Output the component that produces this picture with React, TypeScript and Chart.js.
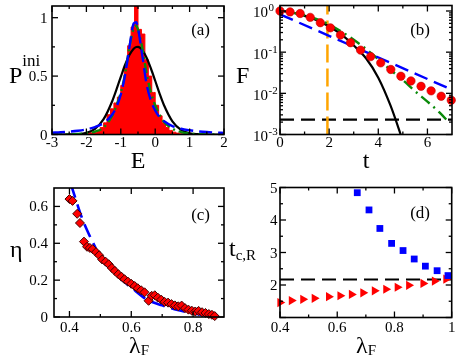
import React, { useEffect, useRef } from 'react';
import { Chart, registerables } from 'chart.js';

Chart.register(...registerables);

const FONT = '"Liberation Serif", "Times New Roman", Times, serif';
const RED = '#ff0000';
const BLUE = '#0000ff';
const GREEN = '#0a8a0a';
const ORANGE = '#ffa500';

// ---------------- Panel (a): P^ini vs E ----------------
const aGridE = [-3, -2.75, -2.5, -2.25, -2, -1.75, -1.5, -1.25, -1.125, -1, -0.875, -0.75, -0.625, -0.55, -0.5, -0.375, -0.25, -0.125, 0, 0.125, 0.25, 0.5, 0.75, 1, 1.25, 1.5, 1.75, 2];
const aBlack = [0, 0, 0.001, 0.003, 0.014, 0.048, 0.131, 0.285, 0.386, 0.493, 0.597, 0.681, 0.735, 0.749, 0.75, 0.722, 0.657, 0.565, 0.46, 0.352, 0.255, 0.113, 0.04, 0.011, 0.0025, 0, 0, 0];
const aBlue = [0.0156, 0.0194, 0.0246, 0.0323, 0.044, 0.064, 0.099, 0.171, 0.237, 0.342, 0.509, 0.746, 0.95, 0.961, 0.91, 0.675, 0.43, 0.29, 0.205, 0.15, 0.115, 0.072, 0.049, 0.036, 0.027, 0.021, 0.017, 0.0138];
const aGreen = [0, 0, 0.001, 0.005, 0.012, 0.025, 0.06, 0.16, 0.25, 0.36, 0.52, 0.75, 0.91, 0.93, 0.9, 0.74, 0.52, 0.36, 0.25, 0.17, 0.11, 0.05, 0.02, 0.008, 0.003, 0.001, 0, 0];
const aBinCenters = [-2.35, -2.25, -2.15, -2.05, -1.95, -1.85, -1.75, -1.65, -1.55, -1.45, -1.35, -1.25, -1.15, -1.05, -0.95, -0.85, -0.75, -0.65, -0.55, -0.45, -0.35, -0.25, -0.15, -0.05, 0.05, 0.15, 0.25, 0.35, 0.45, 0.55, 0.65, 0.75, 0.85, 0.95];
const aBinHeights = [0, 0.004, 0.006, 0.008, 0.01, 0.015, 0.02, 0.035, 0.06, 0.1, 0.17, 0.22, 0.27, 0.32, 0.42, 0.58, 0.76, 0.92, 1.15, 0.9, 0.86, 0.64, 0.5, 0.36, 0.25, 0.16, 0.1, 0.06, 0.035, 0.02, 0.012, 0.006, 0.003, 0];
const aXTicks = [-3, -2, -1, 0, 1, 2];
const aXTickLabels = ['-3', '-2', '-1', '0', '1', '2'];
const aXMinor = [-2.5, -1.5, -0.5, 0.5, 1.5];
const aYTicks = [0, 0.5, 1];
const aYTickLabels = ['0', '0.5', '1'];
const aYMinor = [0.25, 0.75];

// ---------------- Panel (b): F vs t (log) ----------------
const bCircleT = [0, 0.41, 0.82, 1.23, 1.64, 2.05, 2.46, 2.87, 3.28, 3.69, 4.1, 4.51, 4.92, 5.33, 5.74, 6.15, 6.56, 6.97];
const bCircleF = [1.0, 0.95, 0.87, 0.7, 0.52, 0.39, 0.26, 0.17, 0.112, 0.078, 0.055, 0.038, 0.026, 0.02, 0.0148, 0.0115, 0.0085, 0.0068];
const bBlackT = [0, 0.5, 1.0, 1.5, 2.0, 2.5, 3.0, 3.5, 4.0, 4.5, 5.0];
const bBlackF = [1.0, 0.92, 0.76, 0.6, 0.42, 0.27, 0.145, 0.071, 0.024, 0.005, 0.0007];
const bGreenT = [0.3, 1.0, 1.5, 2.0, 2.5, 3.0, 3.5, 4.0, 4.5, 5.0, 5.5, 6.0, 6.5, 6.9];
const bGreenF = [0.955, 0.794, 0.631, 0.468, 0.316, 0.2, 0.12, 0.0676, 0.0372, 0.0209, 0.0112, 0.0063, 0.0034, 0.0019];
const bBlueT = [0, 7];
const bBlueF = [0.83, 0.0122];
const bCrossT = 1.93;
const bFloorF = 0.0023;
const bXTicks = [0, 2, 4, 6];
const bXTickLabels = ['0', '2', '4', '6'];
const bXMinor = [1, 3, 5];
const bYTicks = [1, 0.1, 0.01, 0.001];
const bYExponents = ['0', '-1', '-2', '-3'];
const bYMinor: number[] = [];
[0.001, 0.01, 0.1].forEach((dec) => {
  [2, 3, 4, 5, 6, 7, 8, 9].forEach((m) => bYMinor.push(dec * m));
});

// ---------------- Panel (c): eta vs lambda_F ----------------
const cLambda = [0.4, 0.41, 0.425, 0.434, 0.447, 0.457, 0.466, 0.475, 0.486, 0.496, 0.506, 0.517, 0.527, 0.537, 0.547, 0.558, 0.568, 0.578, 0.589, 0.6, 0.611, 0.621, 0.632, 0.643, 0.656, 0.666, 0.676, 0.686, 0.697, 0.708, 0.719, 0.73, 0.741, 0.752, 0.763, 0.774, 0.785, 0.796, 0.807, 0.818, 0.829, 0.84, 0.851, 0.861, 0.87];
const cEta = [0.64, 0.63, 0.56, 0.51, 0.409, 0.381, 0.375, 0.368, 0.352, 0.335, 0.312, 0.3, 0.286, 0.266, 0.25, 0.232, 0.219, 0.205, 0.192, 0.18, 0.168, 0.156, 0.145, 0.134, 0.088, 0.115, 0.118, 0.105, 0.094, 0.082, 0.078, 0.07, 0.063, 0.058, 0.062, 0.048, 0.04, 0.034, 0.03, 0.033, 0.026, 0.022, 0.016, 0.012, 0.005];
const cFitLambda = [0.405, 0.42, 0.44, 0.46, 0.48, 0.5, 0.53, 0.56, 0.6, 0.65, 0.7, 0.75, 0.8, 0.85, 0.87];
const cFitEta = [0.72, 0.64, 0.54, 0.46, 0.39, 0.32, 0.265, 0.215, 0.16, 0.095, 0.063, 0.038, 0.02, 0.006, 0.002];
const cXTicks = [0.4, 0.6, 0.8];
const cXTickLabels = ['0.4', '0.6', '0.8'];
const cXMinor = [0.5, 0.7];
const cYTicks = [0, 0.2, 0.4, 0.6];
const cYTickLabels = ['0', '0.2', '0.4', '0.6'];
const cYMinor = [0.1, 0.3, 0.5];

// ---------------- Panel (d): t_{c,R} vs lambda_F ----------------
const dSquareL = [0.67, 0.711, 0.749, 0.79, 0.83, 0.869, 0.908, 0.949, 0.987];
const dSquareT = [4.84, 4.31, 3.74, 3.28, 3.06, 2.8, 2.58, 2.44, 2.29];
const dTriL = [0.4, 0.44, 0.48, 0.52, 0.57, 0.61, 0.65, 0.69, 0.73, 0.77, 0.81, 0.85, 0.9, 0.94, 0.98];
const dTriT = [1.46, 1.52, 1.56, 1.59, 1.64, 1.67, 1.71, 1.76, 1.82, 1.87, 1.93, 1.99, 2.05, 2.12, 2.18];
const dRefT = 2.17;
const dXTicks = [0.4, 0.6, 0.8, 1];
const dXTickLabels = ['0.4', '0.6', '0.8', '1'];
const dXMinor = [0.5, 0.7, 0.9];
const dYTicks = [1, 2, 3, 4, 5];
const dYTickLabels = ['', '2', '3', '4', '5'];
const dYMinor = [1.5, 2.5, 3.5, 4.5];

// ---------------- helpers ----------------
const pts = (xs: number[], ys: number[]) => xs.map((x, i) => ({ x, y: ys[i] }));

type Run = { t: string; size: number; dy?: number };
type TitleSpec = { x: number; y: number; align: 'left' | 'center' | 'right'; runs: Run[] };
type Deco = {
  xMajor: number[]; xMinor: number[]; xLabels: string[]; xLabelDy: number;
  yMajor: number[]; yMinor: number[]; yLabels: string[]; yLabelDx: number;
  yExp?: boolean;
  titles: TitleSpec[];
};

const TICK_FONT = 15;
const MAJOR = 6;
const MINOR = 3;

function drawRuns(ctx: CanvasRenderingContext2D, spec: TitleSpec) {
  let total = 0;
  spec.runs.forEach((r) => {
    ctx.font = `${r.size}px ${FONT}`;
    total += ctx.measureText(r.t).width;
  });
  let x = spec.align === 'left' ? spec.x : spec.align === 'center' ? spec.x - total / 2 : spec.x - total;
  ctx.textAlign = 'left';
  spec.runs.forEach((r) => {
    ctx.font = `${r.size}px ${FONT}`;
    ctx.fillText(r.t, x, spec.y + (r.dy || 0));
    x += ctx.measureText(r.t).width;
  });
}

function decoPlugin(d: Deco) {
  return {
    id: 'deco',
    afterDraw(chart: any) {
      const ctx: CanvasRenderingContext2D = chart.ctx;
      const a = chart.chartArea;
      const xs = chart.scales.x;
      const ys = chart.scales.y;
      ctx.save();
      ctx.setLineDash([]);
      ctx.strokeStyle = '#000';
      ctx.lineWidth = 1.3;
      const line = (x1: number, y1: number, x2: number, y2: number) => {
        ctx.beginPath();
        ctx.moveTo(x1, y1);
        ctx.lineTo(x2, y2);
        ctx.stroke();
      };
      const xt = (v: number, len: number) => {
        const x = xs.getPixelForValue(v);
        line(x, a.bottom, x, a.bottom - len);
        line(x, a.top, x, a.top + len);
      };
      const yt = (v: number, len: number) => {
        const y = ys.getPixelForValue(v);
        if (y < a.top - 0.5 || y > a.bottom + 0.5) return;
        line(a.left, y, a.left + len, y);
        line(a.right, y, a.right - len, y);
      };
      d.xMajor.forEach((v) => xt(v, MAJOR));
      d.xMinor.forEach((v) => xt(v, MINOR));
      d.yMajor.forEach((v) => yt(v, MAJOR));
      d.yMinor.forEach((v) => yt(v, MINOR));
      ctx.lineWidth = 1.6;
      ctx.strokeRect(a.left, a.top, a.right - a.left, a.bottom - a.top);

      ctx.fillStyle = '#000';
      ctx.textBaseline = 'alphabetic';
      ctx.font = `${TICK_FONT}px ${FONT}`;
      ctx.textAlign = 'center';
      d.xMajor.forEach((v, i) => {
        ctx.fillText(d.xLabels[i], xs.getPixelForValue(v), a.bottom + d.xLabelDy);
      });
      if (d.yExp) {
        d.yMajor.forEach((v, i) => {
          const y = ys.getPixelForValue(v);
          ctx.font = `${TICK_FONT}px ${FONT}`;
          ctx.textAlign = 'right';
          ctx.fillText('10', a.left - d.yLabelDx, y + 6.5);
          ctx.font = `11px ${FONT}`;
          ctx.textAlign = 'left';
          ctx.fillText(d.yLabels[i], a.left - d.yLabelDx + 0.5, y + 0.5);
        });
      } else {
        ctx.textAlign = 'right';
        d.yMajor.forEach((v, i) => {
          if (d.yLabels[i]) ctx.fillText(d.yLabels[i], a.left - d.yLabelDx, ys.getPixelForValue(v) + 5);
        });
      }
      d.titles.forEach((t) => drawRuns(ctx, t));
      ctx.restore();
    },
  };
}

function baseOptions(pad: any, xScale: any, yScale: any) {
  return {
    animation: false,
    responsive: false,
    maintainAspectRatio: false,
    devicePixelRatio: 1,
    events: [],
    layout: { padding: pad },
    plugins: { legend: { display: false }, tooltip: { enabled: false } },
    scales: {
      x: { ...xScale, display: false },
      y: { ...yScale, display: false },
    },
  };
}

const curve = (data: any[], color: string, dash: number[], width = 2.2, extra: any = {}) => ({
  data,
  borderColor: color,
  backgroundColor: color,
  borderWidth: width,
  borderDash: dash,
  pointRadius: 0,
  fill: false,
  tension: 0,
  clip: 0,
  ...extra,
});

// ---------------- configs ----------------
function configA(): any {
  return {
    type: 'line',
    data: {
      datasets: [
        curve(pts(aGridE, aBlue), BLUE, [13, 6], 2.4, { cubicInterpolationMode: 'monotone' }),
        curve(pts(aGridE, aGreen), GREEN, [10, 4, 2, 4], 2.4, { cubicInterpolationMode: 'monotone' }),
        curve(pts(aGridE, aBlack), '#000', [], 2.2, { cubicInterpolationMode: 'monotone' }),
        {
          data: pts(aBinCenters, aBinHeights),
          borderColor: RED,
          backgroundColor: RED,
          borderWidth: 1,
          pointRadius: 0,
          stepped: 'middle',
          fill: 'origin',
          clip: 0,
        },
      ],
    },
    options: baseOptions({ left: 52, right: 4, top: 6, bottom: 45.5 }, { type: 'linear', min: -3, max: 2 }, { type: 'linear', min: 0, max: 1.1 }),
    plugins: [
      decoPlugin({
        xMajor: aXTicks, xMinor: aXMinor, xLabels: aXTickLabels, xLabelDy: 12.5,
        yMajor: aYTicks, yMinor: aYMinor, yLabels: aYTickLabels, yLabelDx: 4.5,
        titles: [
          { x: 138, y: 168, align: 'center', runs: [{ t: 'E', size: 24 }] },
          { x: 9, y: 83, align: 'left', runs: [{ t: 'P', size: 24 }, { t: 'ini', size: 17, dy: -17 }] },
          { x: 210, y: 35, align: 'right', runs: [{ t: '(a)', size: 17 }] },
        ],
      }),
    ],
  };
}

function configB(): any {
  const yMin = 0.001;
  const yMax = 1.36;
  return {
    type: 'line',
    data: {
      datasets: [
        {
          data: pts(bCircleT, bCircleF),
          showLine: false,
          pointRadius: 4.2,
          pointStyle: 'circle',
          pointBackgroundColor: RED,
          pointBorderColor: '#c00000',
          pointBorderWidth: 0.6,
          clip: false,
        },
        curve(pts(bBlueT, bBlueF), BLUE, [14, 7], 2.4),
        curve(pts(bGreenT, bGreenF), GREEN, [11, 5, 2, 5], 2.4, { cubicInterpolationMode: 'monotone' }),
        curve(pts(bBlackT, bBlackF), '#000', [], 2.2, { cubicInterpolationMode: 'monotone' }),
        curve([{ x: bCrossT, y: yMin }, { x: bCrossT, y: yMax }], ORANGE, [18, 6], 2.5),
        curve([{ x: 0, y: bFloorF }, { x: 7, y: bFloorF }], '#000', [14, 7], 2.2),
      ],
    },
    options: baseOptions({ left: 52, right: 5, top: 5.5, bottom: 45.5 }, { type: 'linear', min: 0, max: 7 }, { type: 'logarithmic', min: yMin, max: yMax }),
    plugins: [
      decoPlugin({
        xMajor: bXTicks, xMinor: bXMinor, xLabels: bXTickLabels, xLabelDy: 12.5,
        yMajor: bYTicks, yMinor: bYMinor, yLabels: bYExponents, yLabelDx: 12, yExp: true,
        titles: [
          { x: 138, y: 168, align: 'center', runs: [{ t: 't', size: 24 }] },
          { x: 8, y: 83, align: 'left', runs: [{ t: 'F', size: 24 }] },
          { x: 202, y: 35, align: 'right', runs: [{ t: '(b)', size: 17 }] },
        ],
      }),
    ],
  };
}

function configC(): any {
  return {
    type: 'line',
    data: {
      datasets: [
        {
          data: pts(cLambda, cEta),
          showLine: false,
          pointRadius: 4.5,
          pointStyle: 'rectRot',
          pointBackgroundColor: RED,
          pointBorderColor: '#400000',
          pointBorderWidth: 1,
          clip: false,
        },
        curve(pts(cFitLambda, cFitEta), BLUE, [14, 7], 2.6, { cubicInterpolationMode: 'monotone' }),
      ],
    },
    options: baseOptions({ left: 54, right: 6, top: 8, bottom: 45 }, { type: 'linear', min: 0.35, max: 0.9 }, { type: 'linear', min: 0, max: 0.7 }),
    plugins: [
      decoPlugin({
        xMajor: cXTicks, xMinor: cXMinor, xLabels: cXTickLabels, xLabelDy: 15,
        yMajor: cYTicks, yMinor: cYMinor, yLabels: cYTickLabels, yLabelDx: 6,
        titles: [
          { x: 139, y: 173, align: 'center', runs: [{ t: 'λ', size: 24 }, { t: 'F', size: 15, dy: 2 }] },
          { x: 10, y: 77, align: 'left', runs: [{ t: 'η', size: 24 }] },
          { x: 210, y: 40, align: 'right', runs: [{ t: '(c)', size: 17 }] },
        ],
      }),
    ],
  };
}

function configD(): any {
  return {
    type: 'line',
    data: {
      datasets: [
        {
          data: pts(dSquareL, dSquareT),
          showLine: false,
          pointRadius: 4.8,
          pointStyle: 'rect',
          pointBackgroundColor: BLUE,
          pointBorderColor: BLUE,
          pointBorderWidth: 0,
          clip: false,
        },
        {
          data: pts(dTriL, dTriT),
          showLine: false,
          pointRadius: 5.3,
          pointStyle: 'triangle',
          pointRotation: 90,
          pointBackgroundColor: RED,
          pointBorderColor: RED,
          pointBorderWidth: 0,
          clip: false,
        },
        curve([{ x: 0.4, y: dRefT }, { x: 1, y: dRefT }], '#000', [14, 7], 2.2),
      ],
    },
    options: baseOptions({ left: 52, right: 5, top: 7.5, bottom: 44.5 }, { type: 'linear', min: 0.4, max: 1 }, { type: 'linear', min: 1, max: 5 }),
    plugins: [
      decoPlugin({
        xMajor: dXTicks, xMinor: dXMinor, xLabels: dXTickLabels, xLabelDy: 14.5,
        yMajor: dYTicks, yMinor: dYMinor, yLabels: dYTickLabels, yLabelDx: 2.5,
        titles: [
          { x: 138, y: 173, align: 'center', runs: [{ t: 'λ', size: 24 }, { t: 'F', size: 15, dy: 2 }] },
          { x: 1, y: 76, align: 'left', runs: [{ t: 't', size: 24 }, { t: 'c,R', size: 15, dy: 4 }] },
          { x: 202, y: 38, align: 'right', runs: [{ t: '(d)', size: 17 }] },
        ],
      }),
    ],
  };
}

function Panel(props: { left: number; top: number; width: number; height: number; make: () => any }) {
  const ref = useRef<HTMLCanvasElement>(null);
  useEffect(() => {
    if (!ref.current) return;
    const chart = new Chart(ref.current, props.make());
    return () => chart.destroy();
  }, []);
  return (
    <canvas
      ref={ref}
      width={props.width}
      height={props.height}
      style={{ position: 'absolute', left: props.left, top: props.top, width: props.width, height: props.height }}
    />
  );
}

export default function App() {
  return (
    <div style={{ position: 'absolute', left: 0, top: 0, width: 457, height: 362, background: '#fff', overflow: 'hidden' }}>
      <Panel left={0} top={0} width={228} height={180} make={configA} />
      <Panel left={228} top={0} width={229} height={180} make={configB} />
      <Panel left={0} top={180} width={230} height={182} make={configC} />
      <Panel left={228} top={180} width={229} height={182} make={configD} />
    </div>
  );
}
